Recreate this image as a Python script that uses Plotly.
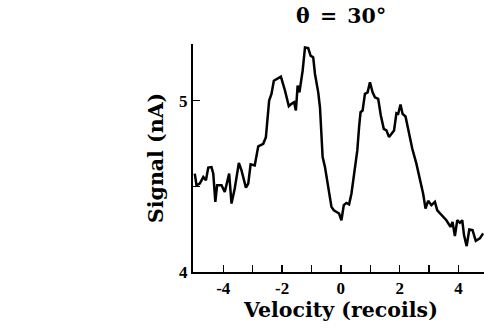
import plotly.graph_objects as go

velocity = [-4.97, -4.91, -4.80, -4.68, -4.59, -4.51, -4.40, -4.34, -4.27, -4.21, -4.06, -3.95,
            -3.80, -3.72, -3.61, -3.47, -3.38, -3.23, -3.15, -3.07, -2.93, -2.81, -2.64, -2.55,
            -2.44, -2.36, -2.28, -2.13, -2.04, -1.90, -1.77, -1.68, -1.59, -1.53, -1.47, -1.41,
            -1.37, -1.30, -1.22, -1.11, -1.03, -0.94, -0.88, -0.77, -0.71, -0.62, -0.54, -0.43,
            -0.32, -0.24, -0.15, -0.06, 0.02, 0.10, 0.19, 0.28, 0.36, 0.48, 0.56, 0.62, 0.67,
            0.74, 0.82, 0.91, 0.99, 1.08, 1.16, 1.27, 1.36, 1.46, 1.55, 1.64, 1.75, 1.81, 1.89,
            1.95, 2.03, 2.10, 2.20, 2.29, 2.43, 2.57, 2.71, 2.80, 2.88, 2.97, 3.08, 3.20, 3.28,
            3.43, 3.59, 3.73, 3.80, 3.88, 3.96, 4.05, 4.13, 4.19, 4.28, 4.37, 4.48, 4.59, 4.73,
            4.84]
signal = [4.574, 4.506, 4.516, 4.554, 4.535, 4.609, 4.612, 4.574, 4.409, 4.506, 4.506, 4.467,
          4.574, 4.399, 4.487, 4.636, 4.593, 4.492, 4.516, 4.628, 4.622, 4.733, 4.748, 4.787,
          5.000, 5.039, 5.116, 5.130, 5.140, 5.058, 4.967, 4.981, 4.990, 4.942, 5.087, 5.048,
          5.097, 5.174, 5.310, 5.306, 5.262, 5.252, 5.155, 5.048, 4.961, 4.670, 4.612, 4.506,
          4.380, 4.360, 4.351, 4.341, 4.302, 4.390, 4.403, 4.395, 4.457, 4.593, 4.709, 4.845,
          4.932, 4.942, 5.039, 5.048, 5.107, 5.048, 5.019, 5.010, 4.913, 4.835, 4.826, 4.787,
          4.816, 4.826, 4.926, 4.922, 4.977, 4.922, 4.907, 4.826, 4.719, 4.632, 4.535, 4.457,
          4.370, 4.415, 4.390, 4.409, 4.360, 4.331, 4.302, 4.263, 4.292, 4.209, 4.302, 4.287,
          4.302, 4.215, 4.151, 4.248, 4.244, 4.182, 4.196, 4.225]

x_tickvals = [-4, -3, -2, -1, 0, 1, 2, 3, 4]
x_ticktext = ["-4", "", "-2", "", "0", "", "2", "", "4"]
y_tickvals = [4, 4.5, 5]
y_ticktext = ["4", "", "5"]

title_text = "θ\u2002=\u200230°"
x_title = "Velocity (recoils)"
y_title = "Signal (nA)"

FONT = "Liberation Serif"
TFONT = "DejaVu Serif"

fig = go.Figure(go.Scatter(x=velocity, y=signal, mode="lines",
                           line=dict(color="black", width=2.5), hoverinfo="skip"))

fig.update_layout(
    width=484, height=332,
    margin=dict(l=193, r=0, t=44, b=60, pad=0),
    paper_bgcolor="white", plot_bgcolor="white",
    showlegend=False,
    font=dict(family=FONT, color="black", size=17, weight="bold"),
    xaxis=dict(range=[-5.03, 4.87], tickvals=x_tickvals, ticktext=x_ticktext,
               ticks="inside", ticklen=7, tickwidth=1.5, tickcolor="black",
               showline=True, linecolor="black", linewidth=2, showgrid=False, zeroline=False,
               tickfont=dict(family=FONT, size=17, weight="bold")),
    yaxis=dict(range=[4.0, 5.33], tickvals=y_tickvals, ticktext=y_ticktext,
               ticks="inside", ticklen=7, tickwidth=1.5, tickcolor="black",
               showline=True, linecolor="black", linewidth=2, showgrid=False, zeroline=False,
               tickfont=dict(family=FONT, size=17, weight="bold")),
    annotations=[
        dict(text=title_text, xref="x", yref="paper", x=0, y=1, yshift=28,
             xanchor="center", yanchor="middle",
             showarrow=False, font=dict(family=TFONT, size=20.5, weight="bold")),
        dict(text=x_title, xref="x", yref="paper", x=0, y=0, yshift=-38,
             xanchor="center", yanchor="middle",
             showarrow=False, font=dict(family=TFONT, size=20.5, weight="bold")),
        dict(text=y_title, xref="paper", yref="paper", x=0, y=0.5, xshift=-37,
             xanchor="center", yanchor="middle",
             textangle=-90, showarrow=False, font=dict(family=TFONT, size=20.5, weight="bold")),
    ],
)

fig.write_html("out.html", config={"displayModeBar": False, "staticPlot": True},
               post_script="document.body.style.margin='0';document.body.style.overflow='hidden';")
